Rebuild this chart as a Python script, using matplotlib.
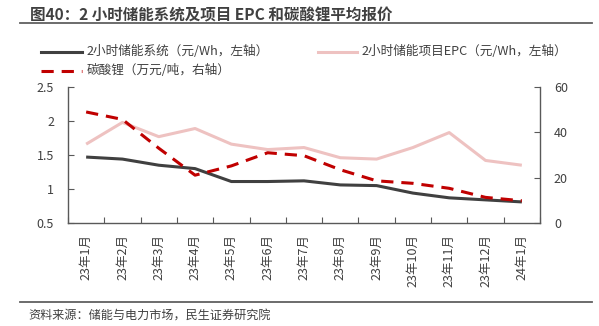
import matplotlib
matplotlib.use("Agg")
import matplotlib.pyplot as plt
from matplotlib.lines import Line2D

plt.rcParams['font.family'] = ['Noto Sans CJK SC', 'DejaVu Sans']

months = ["23年1月", "23年2月", "23年3月", "23年4月", "23年5月", "23年6月", "23年7月",
          "23年8月", "23年9月", "23年10月", "23年11月", "23年12月", "24年1月"]
system_price = [1.47, 1.44, 1.35, 1.30, 1.11, 1.11, 1.12, 1.06, 1.05, 0.94, 0.87, 0.84, 0.81]
epc_price = [1.66, 1.98, 1.77, 1.89, 1.66, 1.58, 1.61, 1.46, 1.44, 1.61, 1.83, 1.42, 1.35]
lithium_price = [49.0, 45.7, 33.0, 21.1, 25.2, 31.0, 29.7, 23.5, 18.6, 17.5, 15.3, 11.3, 9.8]

label_system = "2小时储能系统（元/Wh，左轴）"
label_epc = "2小时储能项目EPC（元/Wh，左轴）"
label_li = "碳酸锂（万元/吨，右轴）"

c_text = "#404040"
c_spine = "#595959"
c_sys = "#404040"
c_epc = "#EEC2C1"
c_li = "#C00000"
dash = (4.0, 2.6)

fig = plt.figure(figsize=(5.99, 3.26), dpi=100)
ax = fig.add_axes([0.1135, 0.316, 0.788, 0.417])
ax2 = ax.twinx()

x = list(range(len(months)))
ax.plot(x, epc_price, color=c_epc, lw=2.2, solid_capstyle='butt', zorder=2)
ax.plot(x, system_price, color=c_sys, lw=2.2, solid_capstyle='butt', zorder=3)
ax2.plot(x, lithium_price, color=c_li, lw=2.2, dashes=dash, zorder=4)

ax.set_xlim(-0.5, len(months) - 0.5)
ax.set_ylim(0.5, 2.5)
ax.set_yticks([0.5, 1, 1.5, 2, 2.5])
ax.set_yticklabels(["0.5", "1", "1.5", "2", "2.5"])
ax2.set_ylim(0, 60)
ax2.set_yticks([0, 20, 40, 60])

ax.set_xticks([i - 0.5 for i in range(len(months) + 1)])
ax.set_xticklabels([])
ax.set_xticks(x, minor=True)
ax.set_xticklabels(months, minor=True, rotation=90, fontsize=9, color=c_text)
ax.tick_params(axis='x', which='major', direction='in', length=4, color=c_spine, width=0.8)
ax.tick_params(axis='x', which='minor', length=0, pad=8)
ax.tick_params(axis='y', which='major', direction='in', length=4, color=c_spine, width=0.8,
               labelsize=9, labelcolor=c_text, pad=10)
ax2.tick_params(axis='y', which='major', direction='in', length=4, color=c_spine, width=0.8,
                labelsize=9, labelcolor=c_text, pad=10)

for a in (ax, ax2):
    a.spines['top'].set_visible(False)
    for s in ('left', 'right', 'bottom'):
        a.spines[s].set_color(c_spine)
        a.spines[s].set_linewidth(1.0)
ax.spines['right'].set_visible(False)
ax2.spines['left'].set_visible(False)
ax2.spines['bottom'].set_visible(False)

# title, rules and source note
fig.text(0.050, 0.954, "图40：2 小时储能系统及项目 EPC 和碳酸锂平均报价",
         fontsize=11.2, fontweight='bold', color=c_text, va='center', ha='left')
fig.add_artist(Line2D([0.033, 0.988], [0.928, 0.928], color="#606060", lw=1.3))
fig.add_artist(Line2D([0.033, 0.988], [0.075, 0.075], color="#606060", lw=1.3))
fig.text(0.048, 0.029, "资料来源：储能与电力市场，民生证券研究院",
         fontsize=8.7, color=c_text, va='center', ha='left')

# legend
def legend_entry(x0, x1, y0, color, label, dashed=False):
    kw = dict(color=color, lw=2.2)
    if dashed:
        kw['dashes'] = dash
    fig.add_artist(Line2D([x0, x1], [y0, y0], **kw))
    fig.text(x1 + 0.008, y0, label, fontsize=9.1, color=c_text, va='center', ha='left')

legend_entry(0.068, 0.137, 0.841, c_sys, label_system)
legend_entry(0.531, 0.596, 0.841, c_epc, label_epc)
legend_entry(0.068, 0.137, 0.783, c_li, label_li, dashed=True)

fig.savefig("out.png", dpi=100)
